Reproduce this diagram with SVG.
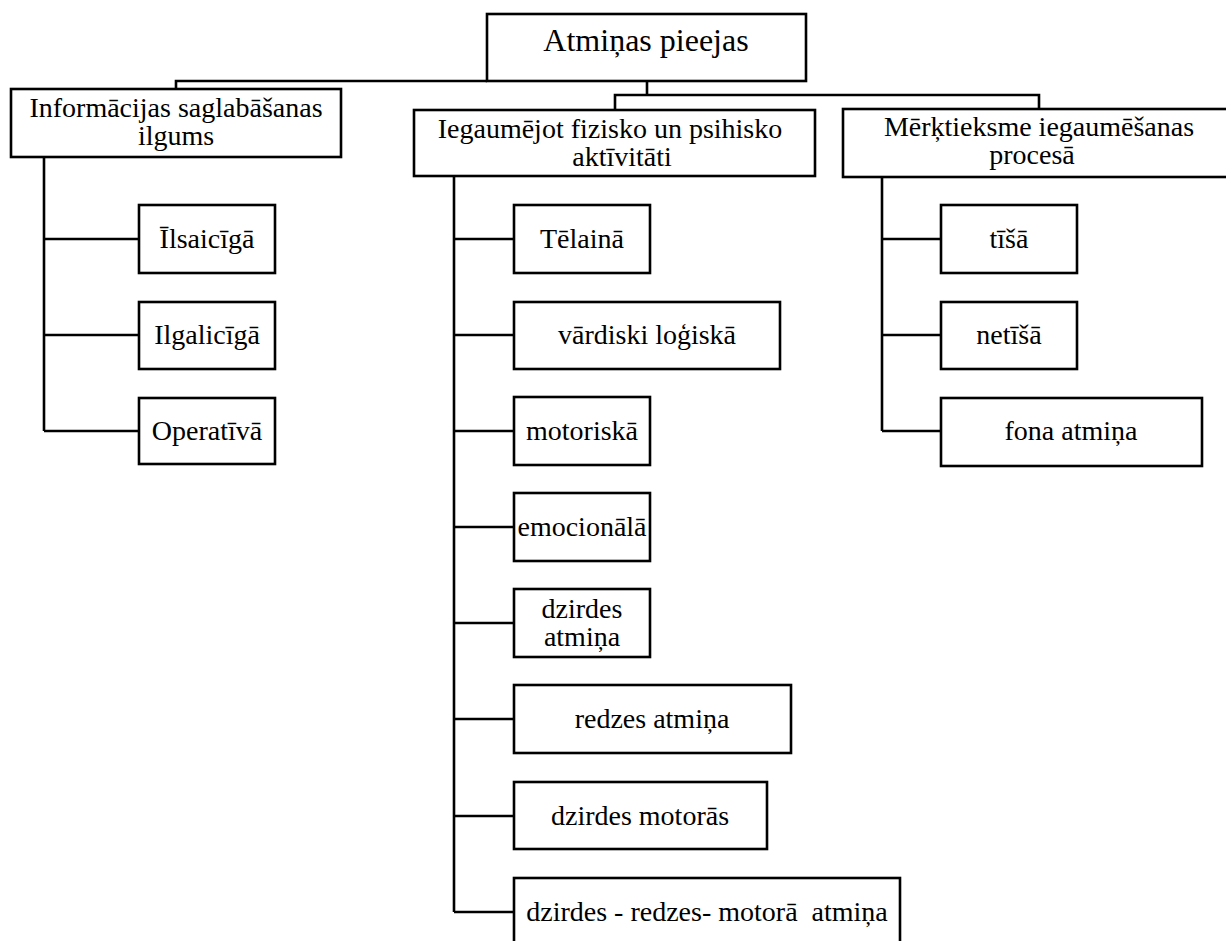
<svg xmlns="http://www.w3.org/2000/svg" width="1226" height="941" viewBox="0 0 1226 941">
<style>
.box{fill:#fff;stroke:#000;stroke-width:2.6}
.con{fill:none;stroke:#000;stroke-width:2.6}
text{font-family:"Liberation Serif","Times New Roman",serif;font-size:28px;fill:#000;text-anchor:middle}
.root{font-size:32px}
</style>
<rect width="1226" height="941" fill="#fff"/>
<g id="connectors" class="con">
<path d="M176,89 V81 H487"/>
<path d="M647,81 V95 M615,110 V95 H1039 V109"/>
<path d="M44,157 V431 M44,239 H139 M44,335 H139 M44,431 H139"/>
<path d="M454,176 V912 M454,239 H514 M454,335 H514 M454,431 H514 M454,527 H514 M454,623 H514 M454,719 H514 M454,816 H514 M454,912 H514"/>
<path d="M882,177 V431 M882,239 H941 M882,335 H941 M882,431 H941"/>
</g>
<g id="root"><rect class="box" x="487" y="14" width="319" height="67"/><text class="root" x="646" y="51">Atmiņas pieejas</text></g>
<g id="info"><rect class="box" x="11" y="89" width="330" height="68"/><text x="176" y="117">Informācijas saglabāšanas</text><text x="176" y="145">ilgums</text></g>
<g id="iegaum"><rect class="box" x="414" y="110" width="401" height="66"/><text x="610" y="138">Iegaumējot fizisko un psihisko</text><text x="622" y="166">aktīvitāti</text></g>
<g id="merkt"><rect class="box" x="843" y="109" width="390" height="68"/><text x="1039" y="136">Mērķtieksme iegaumēšanas</text><text x="1032" y="164">procesā</text></g>
<g id="ilsaiciga"><rect class="box" x="139" y="205" width="136" height="68"/><text x="207" y="248">Īlsaicīgā</text></g>
<g id="ilgaliciga"><rect class="box" x="139" y="302" width="136" height="67"/><text x="207" y="344">Ilgalicīgā</text></g>
<g id="operativa"><rect class="box" x="139" y="398" width="136" height="66"/><text x="207" y="440">Operatīvā</text></g>
<g id="telaina"><rect class="box" x="514" y="205" width="136" height="68"/><text x="582" y="248">Tēlainā</text></g>
<g id="vardiski"><rect class="box" x="514" y="302" width="266" height="67"/><text x="647" y="344">vārdiski loģiskā</text></g>
<g id="motoriska"><rect class="box" x="514" y="397" width="136" height="68"/><text x="582" y="440">motoriskā</text></g>
<g id="emocionala"><rect class="box" x="514" y="493" width="136" height="68"/><text x="582" y="536">emocionālā</text></g>
<g id="dzirdes"><rect class="box" x="514" y="589" width="136" height="68"/><text x="582" y="618">dzirdes</text><text x="582" y="646">atmiņa</text></g>
<g id="redzes"><rect class="box" x="514" y="685" width="277" height="68"/><text x="652" y="728">redzes atmiņa</text></g>
<g id="dzmot"><rect class="box" x="514" y="782" width="253" height="67"/><text x="640" y="825">dzirdes motorās</text></g>
<g id="drm"><rect class="box" x="514" y="878" width="386" height="70"/><text x="707" y="921" xml:space="preserve">dzirdes - redzes- motorā  atmiņa</text></g>
<g id="tisa"><rect class="box" x="941" y="205" width="136" height="68"/><text x="1009" y="248">tīšā</text></g>
<g id="netisa"><rect class="box" x="941" y="302" width="136" height="67"/><text x="1009" y="344">netīšā</text></g>
<g id="fona"><rect class="box" x="941" y="398" width="261" height="68"/><text x="1071" y="440">fona atmiņa</text></g>
</svg>
